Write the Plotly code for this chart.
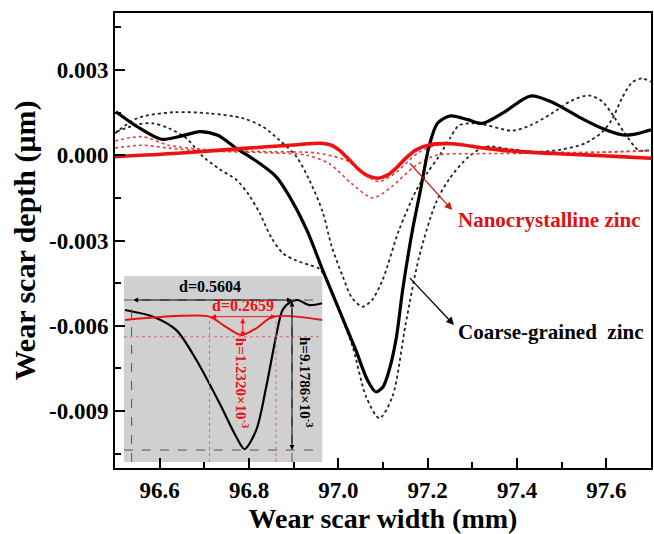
import plotly.graph_objects as go

# ---------------- data ----------------
coarse_x = [96.502, 96.55, 96.604, 96.65, 96.69, 96.73, 96.772, 96.824, 96.861, 96.891,
            96.93, 96.965, 97.002, 97.039, 97.065, 97.084, 97.10, 97.114, 97.13, 97.144,
            97.166, 97.184, 97.203, 97.222, 97.251, 97.29, 97.322, 97.37, 97.43, 97.48,
            97.538, 97.59, 97.638, 97.67, 97.70]
coarse_y = [0.00153, 0.00100, 0.00056, 0.00068, 0.00083, 0.00070, 0.00024, -0.00029, -0.00076, -0.00146,
            -0.00265, -0.00404, -0.00545, -0.00685, -0.00790, -0.00832, -0.00815, -0.00755, -0.00640, -0.00474,
            -0.00263, -0.00122, 0.00030, 0.00112, 0.00138, 0.00125, 0.00112, 0.00150, 0.00208, 0.00185,
            0.00135, 0.00095, 0.00071, 0.00076, 0.00089]

coarse_shallow_x = [96.50, 96.55, 96.63, 96.712, 96.786, 96.831, 96.868, 96.906, 96.935, 96.965,
                    96.985, 97.01, 97.03, 97.054, 97.075, 97.099, 97.136, 97.175, 97.20, 97.225,
                    97.25, 97.27, 97.30, 97.33, 97.389, 97.43, 97.478, 97.52, 97.56, 97.59,
                    97.612, 97.64, 97.672, 97.70]
coarse_shallow_y = [0.00077, 0.00130, 0.00151, 0.00147, 0.00130, 0.00100, 0.00053, -0.00005, -0.00087, -0.00200,
                    -0.00320, -0.00427, -0.00500, -0.00533, -0.00510, -0.00439, -0.00263, -0.00122, -0.00060, -0.00005,
                    0.00060, 0.00105, 0.00112, 0.00106, 0.00086, 0.00105, 0.00147, 0.00190, 0.00210, 0.00190,
                    0.00147, 0.00080, 0.00018, 0.00018]

coarse_deep_x = [96.504, 96.55, 96.585, 96.62, 96.66, 96.697, 96.735, 96.772, 96.80, 96.824,
                 96.85, 96.876, 96.905, 96.935, 96.958, 96.98, 97.00, 97.032, 97.062, 97.092,
                 97.121, 97.151, 97.181, 97.218, 97.25, 97.292, 97.33, 97.39, 97.449, 97.50,
                 97.553, 97.59, 97.612, 97.635, 97.657, 97.68, 97.70]
coarse_deep_y = [0.00083, 0.00108, 0.00112, 0.00095, 0.00059, -0.00005, -0.00050, -0.00087, -0.00140, -0.00204,
                 -0.00290, -0.00345, -0.00370, -0.00386, -0.00400, -0.00460, -0.00540, -0.00673, -0.00849, -0.00925,
                 -0.00849, -0.00591, -0.00357, -0.00169, -0.00080, -0.00005, 0.00030, 0.00020, 0.00012, 0.00020,
                 0.00042, 0.00080, 0.00124, 0.00200, 0.00255, 0.00270, 0.00258]

nano_x = [96.50, 96.64, 96.79, 96.90, 96.96, 96.985, 97.002, 97.025, 97.047, 97.065,
          97.088, 97.11, 97.129, 97.15, 97.173, 97.203, 97.254, 97.33, 97.404, 97.48,
          97.553, 97.63, 97.70]
nano_y = [-0.00005, 0.00007, 0.00024, 0.00036, 0.00042, 0.00035, 0.00018, -0.00017, -0.00052, -0.00072,
          -0.00081, -0.00070, -0.00046, -0.00012, 0.00018, 0.00036, 0.00040, 0.00024, 0.00012, 0.00006,
          0.00001, -0.00005, -0.00011]

nano_a_x = [96.50, 96.56, 96.62, 96.70, 96.85, 96.95, 97.02, 97.07, 97.092, 97.13,
            97.18, 97.24, 97.32, 97.45, 97.58, 97.70]
nano_a_y = [0.00050, 0.00065, 0.00035, 0.00020, 0.00012, 0.00008, -0.00020, -0.00080, -0.00093, -0.00060,
            0.00010, 0.00042, 0.00030, 0.00012, 0.00010, 0.00018]

nano_b_x = [96.50, 96.56, 96.62, 96.70, 96.85, 96.93, 96.98, 97.03, 97.077, 97.12,
            97.17, 97.22, 97.30, 97.45, 97.58, 97.70]
nano_b_y = [0.00025, 0.00035, 0.00025, 0.00015, 0.00008, 0.00000, -0.00030, -0.00100, -0.00150, -0.00110,
            -0.00040, 0.00000, 0.00005, 0.00007, 0.00010, 0.00015]

# inset profiles (inset units: mm across, mm depth)
inset_coarse_x = [0.0035, 0.102, 0.183, 0.253, 0.334, 0.392, 0.421, 0.462, 0.497, 0.531,
                  0.554, 0.584, 0.607, 0.647, 0.694]
inset_coarse_y = [-0.00061, -0.00102, -0.00184, -0.00367, -0.00632, -0.00837, -0.00912, -0.00796, -0.00531, -0.00225,
                  -0.00061, -0.00010, 0.00000, -0.00031, -0.00020]
inset_nano_x = [0.0035, 0.299, 0.346, 0.410, 0.462, 0.520, 0.694]
inset_nano_y = [-0.00122, -0.00102, -0.00153, -0.00214, -0.00173, -0.00102, -0.00122]

# inset dimension guides
coarse_d_edges = [0.0268, 0.587]      # d = 0.5604
coarse_h_levels = [0.0, -0.00918]     # h = 9.1786e-3
nano_d_edges = [0.299, 0.531]         # d = 0.2659
nano_h_levels = [-0.00102, -0.00225]  # h = 1.2320e-3

x_tick_vals = [96.6, 96.8, 97.0, 97.2, 97.4, 97.6]
x_tick_text = ["96.6", "96.8", "97.0", "97.2", "97.4", "97.6"]
y_tick_vals = [-0.009, -0.006, -0.003, 0.0, 0.003]
y_tick_text = ["-0.009", "-0.006", "-0.003", "0.000", "0.003"]

SERIF = "Liberation Serif, Times New Roman, serif"
RED = "#ee1111"
DOTRED = "#e04040"

fig = go.Figure()

# main curves
fig.add_trace(go.Scatter(x=coarse_shallow_x, y=coarse_shallow_y, mode="lines",
                         line=dict(color="#222222", width=1.8, dash="dot", shape="spline", smoothing=0.8)))
fig.add_trace(go.Scatter(x=coarse_deep_x, y=coarse_deep_y, mode="lines",
                         line=dict(color="#222222", width=1.8, dash="dot", shape="spline", smoothing=0.8)))
fig.add_trace(go.Scatter(x=nano_a_x, y=nano_a_y, mode="lines",
                         line=dict(color=DOTRED, width=1.6, dash="dot", shape="spline", smoothing=0.8)))
fig.add_trace(go.Scatter(x=nano_b_x, y=nano_b_y, mode="lines",
                         line=dict(color=DOTRED, width=1.6, dash="dot", shape="spline", smoothing=0.8)))
fig.add_trace(go.Scatter(x=coarse_x, y=coarse_y, mode="lines",
                         line=dict(color="black", width=3.2, shape="spline", smoothing=0.8)))
fig.add_trace(go.Scatter(x=nano_x, y=nano_y, mode="lines",
                         line=dict(color=RED, width=3.6, shape="spline", smoothing=0.8)))

# inset curves
fig.add_trace(go.Scatter(x=inset_coarse_x, y=inset_coarse_y, mode="lines", xaxis="x2", yaxis="y2",
                         line=dict(color="black", width=2.2, shape="spline", smoothing=0.8)))
fig.add_trace(go.Scatter(x=inset_nano_x, y=inset_nano_y, mode="lines", xaxis="x2", yaxis="y2",
                         line=dict(color=RED, width=2.0, shape="spline", smoothing=0.8)))

shapes = []
# inset background (speckled grey in the original)
shapes.append(dict(type="rect", xref="x2 domain", yref="y2 domain", x0=0, x1=1, y0=0, y1=1,
                   fillcolor="#d0d0d0", line=dict(width=0), layer="below"))
# black dashed guides
for xv in coarse_d_edges:
    shapes.append(dict(type="line", xref="x2", yref="y2 domain", x0=xv, x1=xv, y0=0.0, y1=0.87,
                       line=dict(color="#555555", width=1, dash="dash")))
for yv in coarse_h_levels:
    shapes.append(dict(type="line", xref="x2 domain", yref="y2", x0=0, x1=1, y0=yv, y1=yv,
                       line=dict(color="#555555", width=1, dash="dash")))
# red dotted guides
for xv in nano_d_edges:
    shapes.append(dict(type="line", xref="x2", yref="y2 domain", x0=xv, x1=xv, y0=0.0, y1=0.78,
                       line=dict(color="#d07070", width=1, dash="dot")))
shapes.append(dict(type="line", xref="x2 domain", yref="y2", x0=0, x1=1, y0=nano_h_levels[1], y1=nano_h_levels[1],
                   line=dict(color="#d07070", width=1, dash="dot")))

annotations = []
# callout arrows in the main plot
annotations.append(dict(x=97.255, y=-0.00193, ax=97.157, ay=-0.00023, xref="x", yref="y",
                        axref="x", ayref="y", text="", showarrow=True, arrowhead=2, arrowsize=1.2,
                        arrowwidth=1.3, arrowcolor="#c62020"))
annotations.append(dict(x=97.259, y=-0.00597, ax=97.157, ay=-0.00427, xref="x", yref="y",
                        axref="x", ayref="y", text="", showarrow=True, arrowhead=2, arrowsize=1.2,
                        arrowwidth=1.3, arrowcolor="black"))
annotations.append(dict(x=97.263, y=-0.00228, xref="x", yref="y", text="Nanocrystalline zinc",
                        showarrow=False, xanchor="left", yanchor="middle",
                        font=dict(family=SERIF, size=21, color="#dd1111", weight="bold")))
annotations.append(dict(x=97.263, y=-0.00622, xref="x", yref="y", text="Coarse-grained  zinc",
                        showarrow=False, xanchor="left", yanchor="middle",
                        font=dict(family=SERIF, size=21, color="black", weight="bold")))

# inset dimension arrows
annotations.append(dict(x=coarse_d_edges[1], y=coarse_h_levels[0], ax=coarse_d_edges[0], ay=coarse_h_levels[0],
                        xref="x2", yref="y2", axref="x2", ayref="y2", text="", showarrow=True,
                        arrowhead=2, arrowside="end+start", arrowsize=1, arrowwidth=1, arrowcolor="black"))
annotations.append(dict(x=coarse_d_edges[1], y=coarse_h_levels[1], ax=coarse_d_edges[1], ay=coarse_h_levels[0],
                        xref="x2", yref="y2", axref="x2", ayref="y2", text="", showarrow=True,
                        arrowhead=2, arrowside="end+start", arrowsize=1, arrowwidth=1, arrowcolor="black"))
annotations.append(dict(x=nano_d_edges[1], y=nano_h_levels[0], ax=nano_d_edges[0], ay=nano_h_levels[0],
                        xref="x2", yref="y2", axref="x2", ayref="y2", text="", showarrow=True,
                        arrowhead=2, arrowside="end+start", arrowsize=1, arrowwidth=1, arrowcolor=RED))
annotations.append(dict(x=0.415, y=nano_h_levels[1], ax=0.415, ay=nano_h_levels[0],
                        xref="x2", yref="y2", axref="x2", ayref="y2", text="", showarrow=True,
                        arrowhead=2, arrowside="end+start", arrowsize=1, arrowwidth=1, arrowcolor=RED))
# inset labels
annotations.append(dict(x=0.299, y=0.00081, xref="x2", yref="y2", text="d=0.5604", showarrow=False,
                        font=dict(family=SERIF, size=16, color="black", weight="bold")))
annotations.append(dict(x=0.415, y=-0.00031, xref="x2", yref="y2", text="d=0.2659", showarrow=False,
                        font=dict(family=SERIF, size=16, color=RED, weight="bold")))
annotations.append(dict(x=0.415, y=-0.00505, xref="x2", yref="y2", text="h=1.2320×10<sup>-3</sup>",
                        showarrow=False, textangle=90,
                        font=dict(family=SERIF, size=15, color=RED, weight="bold")))
annotations.append(dict(x=0.636, y=-0.00502, xref="x2", yref="y2", text="h=9.1786×10<sup>-3</sup>",
                        showarrow=False, textangle=90,
                        font=dict(family=SERIF, size=15, color="black", weight="bold")))

fig.update_layout(
    width=654, height=534,
    margin=dict(l=115, r=1, t=13, b=66),
    paper_bgcolor="white", plot_bgcolor="rgba(0,0,0,0)",
    showlegend=False,
    shapes=shapes, annotations=annotations,
    xaxis=dict(range=[96.5, 97.7], tickmode="array", tickvals=x_tick_vals, ticktext=x_tick_text,
               ticks="inside", ticklen=10, tickwidth=2, tickcolor="black",
               minor=dict(tickmode="linear", tick0=96.5, dtick=0.1, ticks="inside", ticklen=6,
                          tickwidth=2, tickcolor="black"),
               showline=True, linewidth=2, linecolor="black", mirror=True,
               showgrid=False, zeroline=False,
               tickfont=dict(family=SERIF, size=23, color="black", weight="bold"),
               title=dict(text="Wear scar width (mm)", standoff=4,
                          font=dict(family=SERIF, size=28, color="black", weight="bold"))),
    yaxis=dict(range=[-0.011, 0.005], tickmode="array", tickvals=y_tick_vals, ticktext=y_tick_text,
               ticks="inside", ticklen=10, tickwidth=2, tickcolor="black",
               minor=dict(tickmode="linear", tick0=0, dtick=0.0015, ticks="inside", ticklen=6,
                          tickwidth=2, tickcolor="black"),
               showline=True, linewidth=2, linecolor="black", mirror=True,
               showgrid=False, zeroline=False,
               tickfont=dict(family=SERIF, size=23, color="black", weight="bold"),
               title=dict(text="Wear scar depth (μm)", standoff=4,
                          font=dict(family=SERIF, size=30, color="black", weight="bold"))),
    xaxis2=dict(domain=[0.0167, 0.3866], anchor="y2", range=[0, 0.6925], visible=False),
    yaxis2=dict(domain=[0.0132, 0.422], anchor="x2", range=[-0.00991, 0.00147], visible=False),
)

fig.write_html("out.html")
